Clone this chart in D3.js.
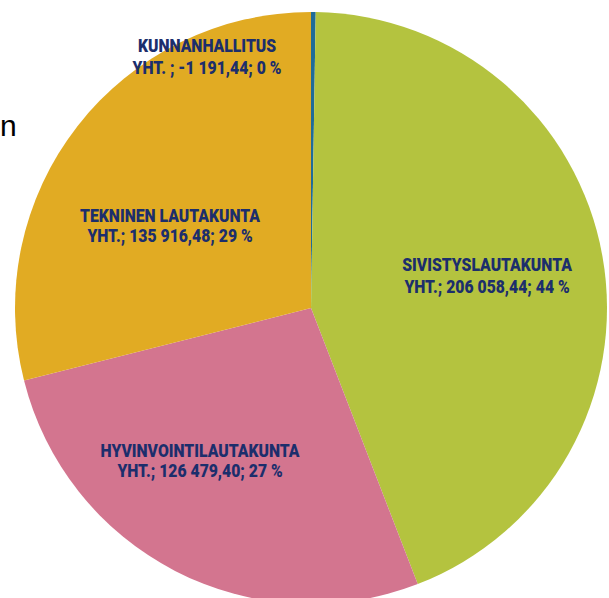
<!DOCTYPE html>
<html>
<head>
<meta charset="utf-8">
<script src="https://cdn.jsdelivr.net/npm/d3@7"></script>
<style>
  body { margin: 0; background: #fff; }
  svg { display: block; }
</style>
</head>
<body>
<svg id="chart"></svg>
<script>
const width = 609;
const height = 598;

// data
const names = ['KUNNANHALLITUS', 'SIVISTYSLAUTAKUNTA', 'HYVINVOINTILAUTAKUNTA', 'TEKNINEN LAUTAKUNTA'];
const values = [-1191.44, 206058.44, 126479.40, 135916.48];
const valueLabels = ['YHT. ; -1 191,44; 0 %', 'YHT.; 206 058,44; 44 %', 'YHT.; 126 479,40; 27 %', 'YHT.; 135 916,48; 29 %'];
const colors = ['#1f6c98', '#b4c33f', '#d3758f', '#e1ab23'];

// label centres (layout only)
const labelPos = [[207, 57], [487, 276], [200, 461], [170, 226]];
const lineGap = [23, 22, 21, 21];

const cx = 311, cy = 308, radius = 296;

const svg = d3.select('#chart')
  .attr('width', width)
  .attr('height', height);

const rows = names.map((n, i) => ({ name: n, value: values[i], label: valueLabels[i] }));

const pie = d3.pie()
  .sort(null)
  .value(d => Math.abs(d.value));

const arc = d3.arc()
  .innerRadius(0)
  .outerRadius(radius);

const g = svg.append('g')
  .attr('transform', `translate(${cx},${cy})`);

g.selectAll('path')
  .data(pie(rows))
  .enter()
  .append('path')
    .attr('d', arc)
    .style('fill', (d, i) => colors[i]);

// labels, squeezed a bit to look like the narrow font of the original
const labels = svg.selectAll('g.label')
  .data(rows)
  .enter()
  .append('g')
    .classed('label', true)
    .attr('transform', (d, i) => `translate(${labelPos[i][0]},${labelPos[i][1]}) scale(0.9,1)`);

labels.append('text')
  .attr('text-anchor', 'middle')
  .attr('y', (d, i) => -lineGap[i] / 2 + 6)
  .style('font-family', 'Roboto, sans-serif')
  .style('font-weight', '900')
  .style('font-size', '17.5px')
  .style('fill', '#1c2e6c')
  .text(d => d.name);

labels.append('text')
  .attr('text-anchor', 'middle')
  .attr('y', (d, i) => lineGap[i] / 2 + 6)
  .style('font-family', 'Roboto, sans-serif')
  .style('font-weight', '900')
  .style('font-size', '17.5px')
  .style('fill', '#1c2e6c')
  .text(d => d.label);

// title fragment at the left edge
svg.append('text')
  .attr('x', 0)
  .attr('y', 136)
  .style('font-family', '"Liberation Sans", Arial, sans-serif')
  .style('font-size', '30px')
  .style('fill', '#000')
  .text('n');
</script>
</body>
</html>
